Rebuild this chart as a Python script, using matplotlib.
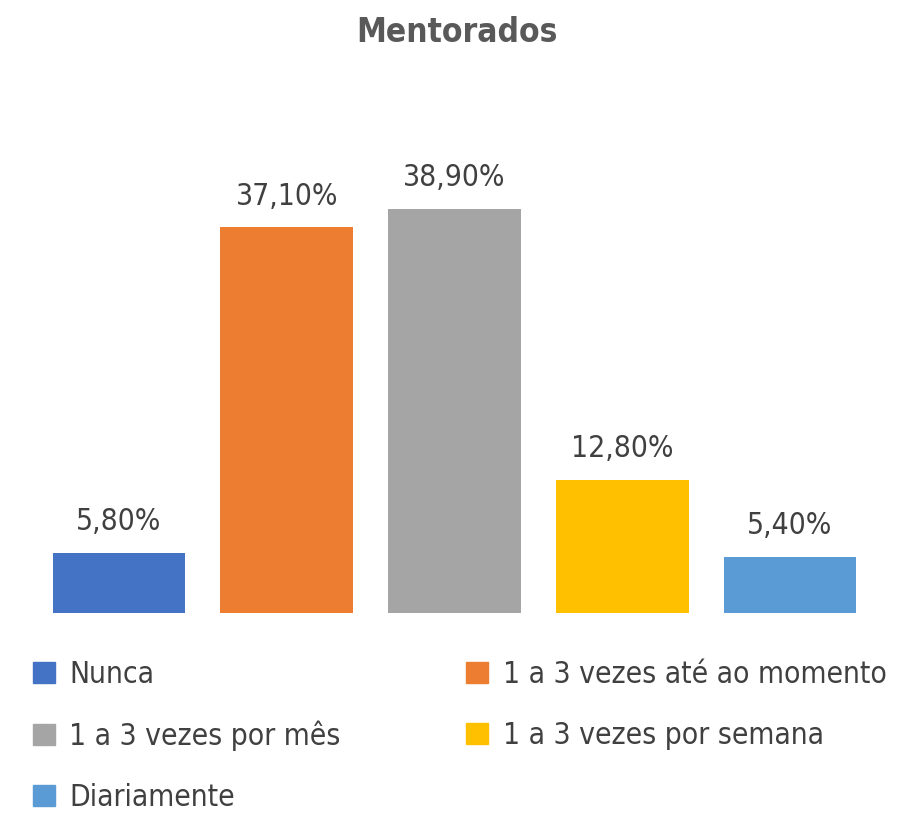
import matplotlib
matplotlib.use("Agg")
import matplotlib.pyplot as plt
from matplotlib.patches import Patch
from matplotlib import font_manager as fm

categories = ["Nunca", "1 a 3 vezes até ao momento", "1 a 3 vezes por mês",
              "1 a 3 vezes por semana", "Diariamente"]
values = [5.8, 37.1, 38.9, 12.8, 5.4]
labels = ["5,80%", "37,10%", "38,90%", "12,80%", "5,40%"]
colors = ["#4472C4", "#ED7D31", "#A5A5A5", "#FFC000", "#5B9BD5"]

names = {f.name for f in fm.fontManager.ttflist}
fam = "Liberation Sans Narrow" if "Liberation Sans Narrow" in names else "DejaVu Sans"
stretch = "normal" if fam == "Liberation Sans Narrow" else "condensed"
plt.rcParams["font.family"] = [fam, "DejaVu Sans"]
plt.rcParams["font.stretch"] = stretch

txt = "#404040"
fig = plt.figure(figsize=(9.13, 8.14), dpi=100)
ax = fig.add_axes([35/913, 201/814, 839/913, 467.6/814])
x = list(range(len(values)))
bars = ax.bar(x, values, width=0.79, color=colors)
for xi, v, lab in zip(x, values, labels):
    ax.text(xi, v + 1.6, lab, ha="center", va="bottom", fontsize=21.5, color=txt)
ax.set_xlim(-0.5, 4.5)
ax.set_ylim(0, 45)
ax.axis("off")

fig.text(0.5, 1 - 33/814, "Mentorados", ha="center", va="center",
         fontsize=24, fontweight="bold", color="#595959")

handles = [Patch(color=c) for c in colors]
order = [0, 2, 4, 1, 3]
fig.legend([handles[i] for i in order], [categories[i] for i in order],
           ncol=2, frameon=False, fontsize=21.5, handlelength=0.72, handleheight=0.72,
           handletextpad=0.5, labelspacing=1.06, columnspacing=4.2,
           borderaxespad=0, borderpad=0, labelcolor=txt, loc="upper left",
           bbox_to_anchor=(33/913, 1 - 660/814))

fig.savefig("out.png", dpi=100)
